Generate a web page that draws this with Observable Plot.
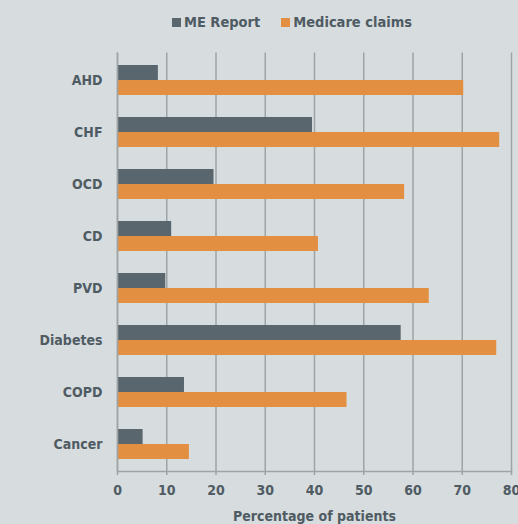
<!DOCTYPE html>
<html>
<head>
<meta charset="utf-8">
<script src="https://cdn.jsdelivr.net/npm/d3@7"></script>
<script src="https://cdn.jsdelivr.net/npm/@observablehq/plot@0.6"></script>
<style>
  html, body { margin: 0; padding: 0; background: #d7dcdf; }
  body { width: 518px; height: 524px; overflow: hidden; font-family: "DejaVu Sans Condensed", "DejaVu Sans", sans-serif; }
  #legend { height: 44px; display: flex; justify-content: center; align-items: center; gap: 21px; padding-left: 66px; box-sizing: border-box;
    font-weight: bold; font-size: 14.5px; color: #4f5b63; }
  #legend .item { display: flex; align-items: center; gap: 3px; }
  #legend .sw { width: 9px; height: 9px; display: inline-block; }
  svg { display: block; }
</style>
</head>
<body>
<div id="legend"></div>
<div id="chart"></div>
<script>
const categories = ["AHD", "CHF", "OCD", "CD", "PVD", "Diabetes", "COPD", "Cancer"];
const meReport = [8.3, 39.6, 19.6, 11.0, 9.8, 57.6, 13.6, 5.2];
const medicareClaims = [70.3, 77.6, 58.3, 40.8, 63.3, 77.0, 46.6, 14.6];
const seriesNames = ["ME Report", "Medicare claims"];
const seriesColors = ["#5a666e", "#e38f41"];
const xTicks = [0, 10, 20, 30, 40, 50, 60, 70, 80];
const xLabel = "Percentage of patients";

const textColor = "#4f5b63";
const gridColor = "#9ea3a6";

// legend
const legend = document.getElementById("legend");
seriesNames.forEach((name, i) => {
  const item = document.createElement("span");
  item.className = "item";
  const sw = document.createElement("span");
  sw.className = "sw";
  sw.style.background = seriesColors[i];
  const t = document.createElement("span");
  t.textContent = name;
  item.appendChild(sw);
  item.appendChild(t);
  legend.appendChild(item);
});

const meData = categories.map((c, i) => ({category: c, value: meReport[i], series: seriesNames[0]}));
const mcData = categories.map((c, i) => ({category: c, value: medicareClaims[i], series: seriesNames[1]}));

const bandwidth = 30;

const chart = Plot.plot({
  width: 518,
  height: 480,
  marginLeft: 117,
  marginRight: 7,
  marginTop: 8.5,
  marginBottom: 53,
  style: {
    background: "transparent",
    fontFamily: "'DejaVu Sans Condensed', 'DejaVu Sans', sans-serif",
    fontSize: "13px",
    fontWeight: "bold",
    color: textColor
  },
  x: {domain: [0, 80]},
  y: {domain: categories, paddingInner: 0.43, paddingOuter: 0.215},
  color: {domain: seriesNames, range: seriesColors},
  marks: [
    Plot.gridX(xTicks, {stroke: gridColor, strokeOpacity: 1, strokeWidth: 1.5}),
    Plot.barX(meData, {x: "value", y: "category", fill: "series", insetBottom: bandwidth / 2}),
    Plot.barX(mcData, {x: "value", y: "category", fill: "series", insetTop: bandwidth / 2}),
    Plot.frame({anchor: "bottom", stroke: gridColor, strokeWidth: 1.5}),
    Plot.ruleX([0], {stroke: gridColor, strokeWidth: 1.5}),
    Plot.axisX({ticks: xTicks, tickSize: 4, tickPadding: 10, stroke: gridColor, strokeWidth: 1.5,
      fill: textColor, fontSize: 14, label: xLabel, labelAnchor: "center", labelArrow: "none", labelOffset: 49}),
    Plot.axisY({tickSize: 0, tickPadding: 15, label: null, fill: textColor, fontSize: 14})
  ]
});
document.getElementById("chart").appendChild(chart);
</script>
</body>
</html>
